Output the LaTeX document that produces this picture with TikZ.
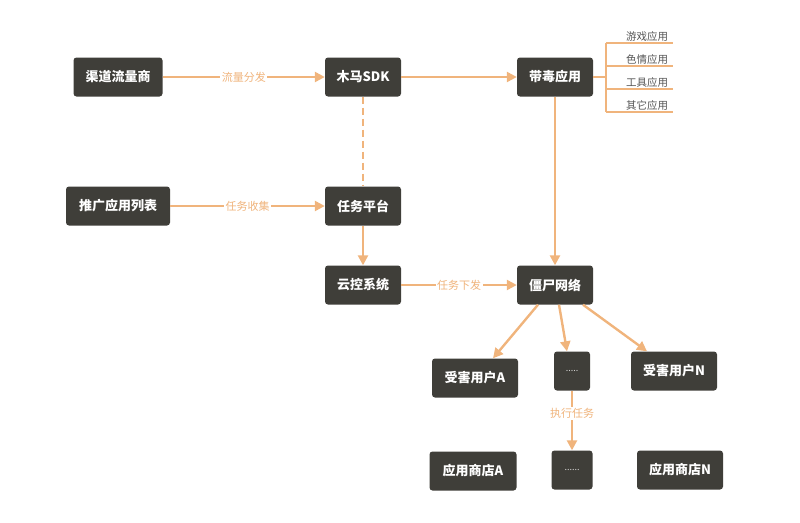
\documentclass[tikz,border=0pt]{standalone}
\usepackage{fontspec}
\setmainfont{Noto Sans CJK SC}
\usetikzlibrary{arrows.meta}
\definecolor{boxgray}{HTML}{3F3E39}
\definecolor{flow}{HTML}{F0B47C}
\definecolor{itemgray}{HTML}{555555}
\begin{document}
\begin{tikzpicture}[x=1pt,y=-1pt,
    box/.style={fill=boxgray,rounded corners=3pt,text=white,font=\fontsize{13}{13}\selectfont\bfseries,
      minimum height=39pt,inner xsep=7pt},
    dotbox/.style={box,font=\fontsize{9}{9}\selectfont,text=white!80!boxgray},
    flowline/.style={draw=flow,line width=2.4pt,-{Triangle[length=10pt,width=10pt]}},
    flowlabel/.style={fill=white,text=flow,font=\fontsize{11}{11}\selectfont,inner sep=1.5pt}]
  \useasboundingbox (0,0) rectangle (800,522);
  \draw
    (118,77) node[box,minimum width=89pt] (qd){渠道流量商}
    (363,77) node[box,minimum width=76pt] (sdk){木马SDK}
    (555,77) node[box,minimum width=76pt] (bd){带毒应用}
    (118,206) node[box,minimum width=104pt] (tg){推广应用列表}
    (363,206) node[box,minimum width=76pt] (pt){任务平台}
    (363,285) node[box,minimum width=76pt] (yk){云控系统}
    (555,285) node[box,minimum width=76pt] (zs){僵尸网络}
    (475,378) node[box,minimum width=86pt] (ua){受害用户A}
    (572,371) node[dotbox,minimum width=36pt] (d1){.....}
    (674,371) node[box,minimum width=86pt] (un){受害用户N}
    (473,471) node[box,minimum width=87pt] (sa){应用商店A}
    (572,470) node[dotbox,minimum width=41pt] (d2){......}
    (680,470) node[box,minimum width=86pt] (sn){应用商店N};
  % app categories
  \coordinate (br) at (606,77);
  \draw[flow,line width=1.2pt] (bd.east) -- (br) (606,43) -- (606,112);
  \foreach \t [count=\i] in {游戏应用,色情应用,工具应用,其它应用} {
    \draw[flow,line width=1.2pt] (606,20+23*\i) -- (673,20+23*\i);
    \node[text=itemgray,font=\fontsize{10.5}{10.5}\selectfont] (c\i) at (647,14+23*\i) {\t};
  }
  \begin{scope}[flowline]
    \draw (qd) -- node[flowlabel]{流量分发} (sdk);
    \draw (sdk) -- (bd);
    \draw[-,dashed,dash pattern=on 7pt off 4pt] (sdk) -- (pt);
    \draw (tg) -- node[flowlabel]{任务收集} (pt);
    \draw (pt) -- (yk);
    \draw (yk) -- node[flowlabel]{任务下发} (zs);
    \draw (bd) -- (zs);
    \draw ([xshift=-17pt]zs.south) -- ([xshift=18pt]ua.north);
    \draw ([xshift=4pt]zs.south) -- ([xshift=-5pt]d1.north);
    \draw ([xshift=28pt]zs.south) -- ([xshift=-27pt]un.north);
    \draw (d1) -- node[flowlabel,pos=0.38]{执行任务} (d2);
  \end{scope}
\end{tikzpicture}
\end{document}
